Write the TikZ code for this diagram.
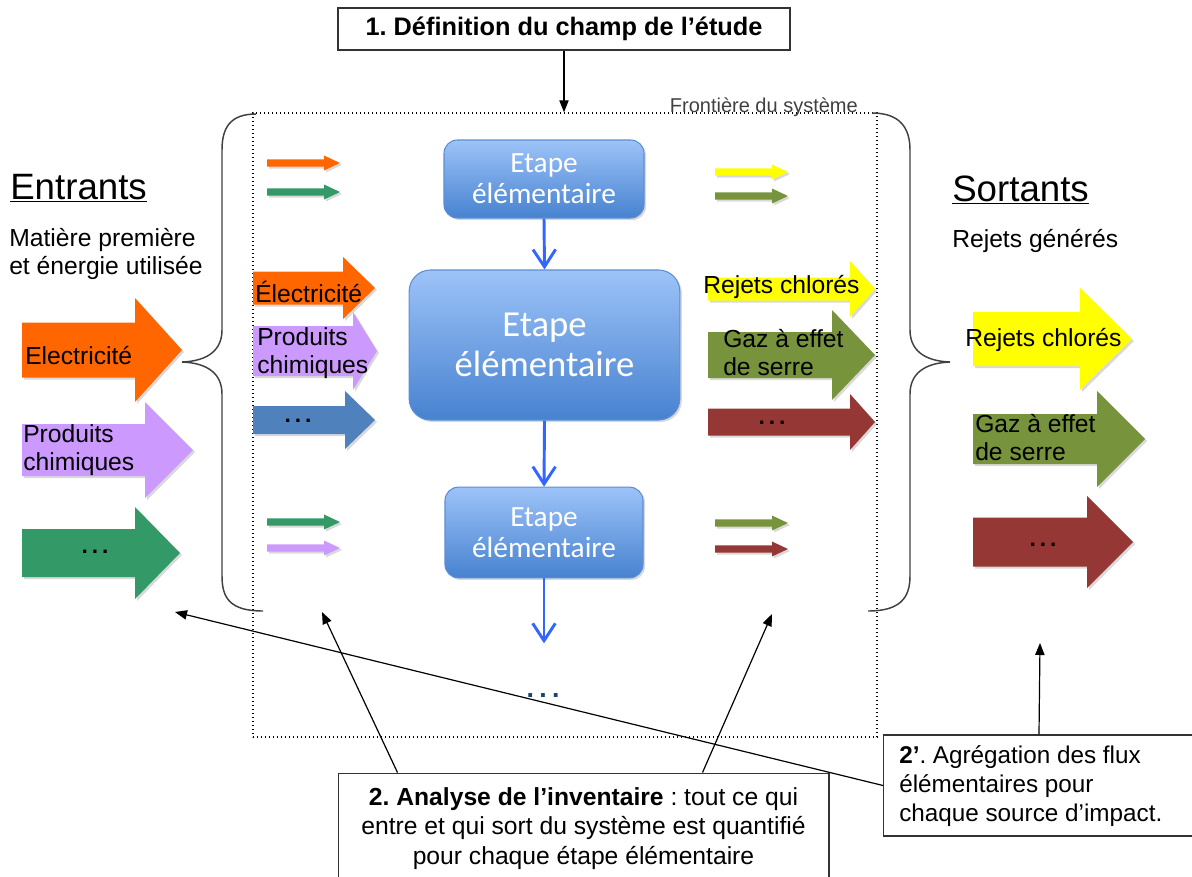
\documentclass[tikz,border=0pt]{standalone}
\usepackage{fontspec}
\setmainfont{Liberation Sans}
\newfontfamily\stepfont{Carlito}
\usetikzlibrary{shadows,fit,calc,arrows.meta}

\definecolor{elec}{HTML}{FF6600}
\definecolor{chem}{HTML}{CC99FF}
\definecolor{misc}{HTML}{339966}
\definecolor{steel}{HTML}{4F81BD}
\definecolor{chlor}{HTML}{FFFF00}
\definecolor{ghg}{HTML}{77933C}
\definecolor{rust}{HTML}{953735}
\definecolor{boxtop}{HTML}{9DC3F8}
\definecolor{boxbot}{HTML}{4782D0}
\definecolor{boxline}{HTML}{5B8ED6}
\definecolor{flowblue}{HTML}{3366FF}
\definecolor{dotblue}{HTML}{1F3F7A}

% block arrow: colour, tail x, head start x, tip x, centre y, half body, half head
\newcommand{\blockarrow}[7]{%
  \fill[#1, flowshadow] (#2,#5-#6) -- (#3,#5-#6) -- (#3,#5-#7) -- (#4,#5)
    -- (#3,#5+#7) -- (#3,#5+#6) -- (#2,#5+#6) -- cycle;}
% thin flow arrow: colour, tail x, tip x, centre y
\newcommand{\thinarrow}[4]{\blockarrow{#1}{#2}{#3-16}{#3}{#4}{3.6}{7.5}}

\tikzset{
  flowshadow/.style={drop shadow={shadow xshift=1.5pt, shadow yshift=-1.5pt, opacity=0.3}},
  stepbox/.style={draw=boxline, line width=0.8pt, rounded corners=10pt,
    top color=boxtop, bottom color=boxbot, inner sep=0pt, align=center,
    text=white, drop shadow={shadow xshift=1.5pt, shadow yshift=-1.5pt, opacity=0.3}},
  notebox/.style={draw=black!80, line width=1pt, inner sep=0pt, fill=white,
    drop shadow={shadow xshift=1pt, shadow yshift=-1pt, opacity=0.25}},
  pointer/.style={draw=black, line width=0.9pt, -{Triangle[length=9pt,width=7pt]}},
  flowdown/.style={draw=flowblue, line width=2.2pt,
    -{Straight Barb[length=13pt,width=17pt,line width=2.2pt]}},
  bracestyle/.style={draw=black!75, line width=1.1pt},
  flowtext/.style={inner sep=0pt, align=left, font=\fontsize{18.5}{21}\selectfont},
  dots/.style={inner sep=0pt, font=\bfseries\fontsize{17}{20}\selectfont}
}

\begin{document}
\frenchspacing
\begin{tikzpicture}[x=0.75pt, y=-0.75pt]
\useasboundingbox (0,0) rectangle (1192,876);

% system boundary
\node[fit={(253,113) (877,737)}, inner sep=0pt, draw, line width=1.1pt,
      dash pattern=on 1.1pt off 1.9pt] (sys) {};
\node[anchor=base east, inner sep=0pt, text=black!75,
      font=\fontsize{15}{17}\selectfont] (border) at (858,112) {Frontière du système};

% braces
\draw[bracestyle] (256,114) .. controls (230,114) and (222,128) .. (222,150)
  -- (222,330) .. controls (222,350) and (208,361) .. (182,362)
  .. controls (208,363) and (222,374) .. (222,394)
  -- (222,576) .. controls (222,598) and (230,611) .. (263,611);
\draw[bracestyle] (872,113) .. controls (900,113) and (910,128) .. (910,150)
  -- (910,330) .. controls (910,350) and (924,361) .. (950,362)
  .. controls (924,363) and (910,374) .. (910,394)
  -- (910,576) .. controls (910,598) and (900,611) .. (868,611);

% headings
\node[anchor=base west, inner sep=0pt, font=\fontsize{27.5}{30}\selectfont]
  (inhead) at (10,199) {\underline{Entrants}};
\node[anchor=west, inner sep=0pt, align=left, font=\fontsize{18.5}{20.5}\selectfont]
  (insub) at (9,254) {Matière première\\et énergie utilisée};
\node[anchor=base west, inner sep=0pt, font=\fontsize{27.5}{30}\selectfont]
  (outhead) at (952,201) {\underline{Sortants}};
\node[anchor=west, inner sep=0pt, font=\fontsize{18.5}{20.5}\selectfont]
  (outsub) at (952,241) {Rejets générés};

% aggregated inputs
\blockarrow{elec}{22}{135}{182}{350}{27.5}{52}
\blockarrow{chem}{22}{145}{193}{450}{26}{48}
\blockarrow{misc}{22}{135}{180}{553}{24}{46}
\node[flowtext, anchor=west] (inel) at (25,356) {Electricité};
\node[flowtext, anchor=west] (inch) at (23,450) {Produits\\chimiques};
\node[dots] (inetc) at (95,552) {.\hspace{3pt}.\hspace{3pt}.};

% inputs of the central step
\blockarrow{elec}{253}{343}{375}{288}{16.5}{31}
\blockarrow{chem}{253}{353}{377}{351}{25}{39}
\blockarrow{steel}{253}{345}{375}{420}{14}{29}
\node[flowtext, anchor=west] (midel) at (255,292) {Électricité};
\node[flowtext, anchor=west] (midch) at (257,353) {Produits\\chimiques};
\node[dots] (midetc) at (298,421) {.\hspace{3pt}.\hspace{3pt}.};

% outputs of the central step
\blockarrow{chlor}{708}{850}{875}{289}{11.5}{28}
\blockarrow{ghg}{708}{832}{875}{355}{23}{45}
\blockarrow{rust}{708}{850}{875}{422}{13.5}{28}
\node[flowtext, anchor=west] (midcl) at (703,287) {Rejets chlorés};
\node[flowtext, anchor=west] (midgh) at (723,353) {Gaz à effet\\de serre};
\node[dots] (midrest) at (772,423) {.\hspace{3pt}.\hspace{3pt}.};

% aggregated outputs
\blockarrow{chlor}{973}{1080}{1132}{339}{27}{51}
\blockarrow{ghg}{973}{1097}{1145}{439}{25}{48}
\blockarrow{rust}{973}{1087}{1133}{542}{24.5}{46}
\node[flowtext, anchor=west] (outcl) at (965,340) {Rejets chlorés};
\node[flowtext, anchor=west] (outgh) at (975,438) {Gaz à effet\\de serre};
\node[dots] (outrest) at (1043,545) {.\hspace{3pt}.\hspace{3pt}.};

% flows of the upper and lower steps
\thinarrow{elec}{267}{340}{163}
\thinarrow{misc}{267}{340}{192}
\thinarrow{chlor}{715}{788}{172}
\thinarrow{ghg}{715}{788}{196}
\thinarrow{misc}{267}{340}{522}
\thinarrow{chem}{267}{340}{548}
\thinarrow{ghg}{715}{788}{523}
\thinarrow{rust}{715}{788}{549}

% elementary steps
\node[stepbox, minimum width=150pt, minimum height=58.5pt,
  font=\stepfont\fontsize{22}{23.5}\selectfont] (s1) at (544,179) {Etape\\élémentaire};
\node[stepbox, rounded corners=16pt, minimum width=203pt, minimum height=112.5pt,
  font=\stepfont\fontsize{27.5}{30}\selectfont] (s2) at (544.5,345) {Etape\\élémentaire};
\node[stepbox, minimum width=148.5pt, minimum height=68pt,
  font=\stepfont\fontsize{22}{23.5}\selectfont] (s3) at (544,532.5) {Etape\\élémentaire};
\coordinate (s4) at ($(s3.south)+(0,65)$);
\draw[flowdown] (s1.south) -- (s2.north);
\draw[flowdown] (s2.south) -- (s3.north);
\draw[flowdown] (s3.south) -- (s4);
\node[inner sep=0pt, text=dotblue, font=\bfseries\fontsize{20}{22}\selectfont]
  (more) at (543,695) {.\hspace{4pt}.\hspace{4pt}.};

% method boxes
\node[notebox, minimum width=339pt, minimum height=31.5pt,
  font=\bfseries\fontsize{19}{22}\selectfont] (def) at (564,29)
  {1. Définition du champ de l’étude};
\draw[pointer] (def.south) -- (def.south |- sys.north);

\node[notebox, minimum width=368pt, minimum height=83pt, align=center,
  font=\fontsize{18.5}{22}\selectfont] (inv) at (583.5,828.5)
  {\textbf{2. Analyse de l’inventaire} : tout ce qui\\
   entre et qui sort du système est quantifié\\
   pour chaque étape élémentaire};
\node[notebox, minimum width=236pt, minimum height=75.75pt] (agg) at (1041,785.5) {};
\node[anchor=west, inner sep=0pt, align=left, font=\fontsize{18.2}{22}\selectfont]
  (aggtext) at (899,786)
  {\textbf{2’}. Agrégation des flux\\élémentaires pour\\chaque source d’impact.};

% pointers from the method boxes
\coordinate (tinL) at (175,612);
\coordinate (tinS) at (322,612);
\coordinate (toutS) at (772,614);
\coordinate (toutR) at (1040,643);
\draw[pointer] ($(inv.north west)+(60,0)$) -- (tinS);
\draw[pointer] ($(inv.north west)+(365,0)$) -- (toutS);
\draw[pointer] (agg.west) -- (tinL);
\draw[pointer] ($(agg.north west)+(156,0)$) -- (toutR);
\end{tikzpicture}
\end{document}
